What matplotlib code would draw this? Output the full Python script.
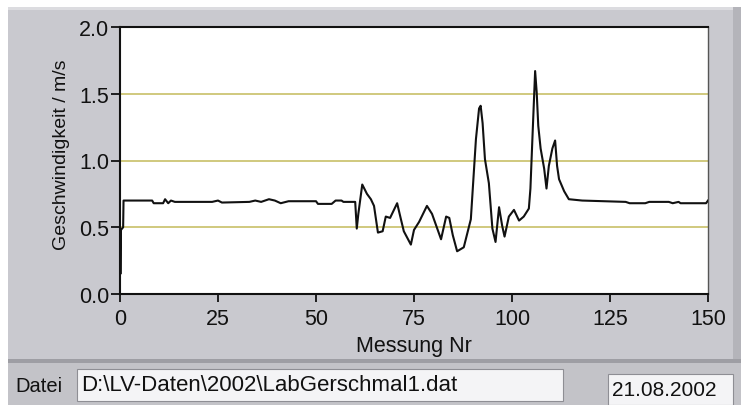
import matplotlib
matplotlib.use("Agg")
import matplotlib.pyplot as plt
from matplotlib.patches import Rectangle

plt.rcParams['font.family'] = ['Liberation Sans', 'DejaVu Sans']

# Messreihe (Messung Nr, Geschwindigkeit in m/s)
messung_nr = [0, 0.1, 0.25, 0.8, 0.9, 8.2, 8.6, 11.0, 11.5, 12.3, 13.0, 14.0,
              23.5, 25.0, 26.0, 33.0, 34.5, 36.0, 38.0, 39.5, 41.0, 43.0,
              50.0, 50.5, 54.0, 55.0, 56.5, 57.0, 60.0, 60.4, 60.8, 61.8,
              63.0, 64.0, 64.8, 65.8, 67.0, 67.8, 68.9, 70.7, 71.5, 72.4,
              74.2, 75.0, 76.3, 78.3, 79.6, 81.9, 83.2, 84.0, 84.9, 86.0,
              87.7, 89.5, 90.8, 91.6, 92.0, 92.5, 93.1, 94.1, 95.0, 95.8,
              96.7, 97.5, 98.1, 99.2, 100.5, 101.8, 103.0, 104.3, 104.7,
              105.2, 105.9, 106.3, 106.7, 107.3, 108.2, 108.8, 109.4, 110.3,
              111.0, 111.5, 112.0, 113.3, 114.5, 117.9, 129.0, 130.0, 134.0,
              135.0, 140.0, 141.0, 142.5, 143.0, 149.5, 150.0]
geschwindigkeit = [0.50, 0.15, 0.48, 0.50, 0.70, 0.70, 0.68, 0.68, 0.71, 0.68,
                   0.70, 0.69, 0.69, 0.70, 0.685, 0.69, 0.70, 0.69, 0.71, 0.70,
                   0.68, 0.695, 0.695, 0.675, 0.675, 0.70, 0.70, 0.69, 0.69,
                   0.49, 0.60, 0.82, 0.75, 0.71, 0.66, 0.46, 0.47, 0.58, 0.57,
                   0.68, 0.58, 0.47, 0.37, 0.48, 0.54, 0.66, 0.60, 0.41, 0.58,
                   0.57, 0.44, 0.32, 0.35, 0.56, 1.16, 1.39, 1.41, 1.28, 1.01,
                   0.83, 0.49, 0.39, 0.65, 0.51, 0.43, 0.58, 0.63, 0.55, 0.58,
                   0.64, 0.79, 1.16, 1.67, 1.51, 1.26, 1.09, 0.94, 0.79, 0.96,
                   1.09, 1.15, 0.96, 0.86, 0.77, 0.71, 0.70, 0.69, 0.68, 0.68,
                   0.69, 0.69, 0.68, 0.69, 0.68, 0.68, 0.70]

x_ticks = [0, 25, 50, 75, 100, 125, 150]
y_ticks = [0.0, 0.5, 1.0, 1.5, 2.0]
grid_y = [0.5, 1.0, 1.5]
dateiname = r"D:\LV-Daten\2002\LabGerschmal1.dat"
datum = "21.08.2002"

W, H = 741, 406
fig = plt.figure(figsize=(W / 100, H / 100), dpi=100)
fig.patch.set_facecolor('white')

def px_rect(x0, y0, x1, y1, **kw):
    # rectangle given in pixel coords (origin top-left), drawn behind the axes
    r = Rectangle((x0 / W, 1 - y1 / H), (x1 - x0) / W, (y1 - y0) / H,
                  transform=fig.transFigure, zorder=-10, **kw)
    fig.patches.append(r)

# Hintergrund-Panels
px_rect(8, 8, 741, 406, facecolor='#c9c9cf', edgecolor='none')
px_rect(8, 8, 741, 11, facecolor='#dcdce0', edgecolor='none')
px_rect(733, 8, 741, 362, facecolor='#b4b4ba', edgecolor='none')
px_rect(8, 360, 741, 364, facecolor='#9e9ea4', edgecolor='none')
px_rect(8, 364, 741, 406, facecolor='#c3c3c8', edgecolor='none')
px_rect(77, 370, 563, 402, facecolor='#f4f4f6', edgecolor='#8e8e94', linewidth=0.8)
px_rect(608, 375, 733, 406, facecolor='#f4f4f6', edgecolor='#8e8e94', linewidth=0.8)

ax = fig.add_axes([120 / W, 1 - 295 / H, (708 - 120) / W, (295 - 28) / H])
ax.set_facecolor('white')
for y in grid_y:
    ax.axhline(y, color='#c8c068', linewidth=1.2, zorder=1)
ax.plot(messung_nr, geschwindigkeit, color='#111111', linewidth=1.5, zorder=3)

ax.set_xlim(0, 150)
ax.set_ylim(0, 2.0)
ax.set_xticks(x_ticks)
ax.set_yticks(y_ticks)
ax.set_yticklabels([f"{v:.1f}" for v in y_ticks])
ax.tick_params(axis='both', direction='out', width=1.3, color='#111111',
               labelsize=15.5, labelcolor='#111111')
ax.tick_params(axis='x', length=6, pad=4)
ax.tick_params(axis='y', length=6.5, pad=1.5)
for side in ['left', 'bottom', 'top']:
    ax.spines[side].set_color('#111111')
    ax.spines[side].set_linewidth(1.5)
ax.spines['right'].set_color('#555555')
ax.spines['right'].set_linewidth(1.0)

ax.set_ylabel("Geschwindigkeit / m/s", fontsize=14, color='#111111')
ax.yaxis.set_label_coords(-0.085, 0.524)
ax.set_xlabel("Messung Nr", fontsize=15.5, color='#111111')
ax.xaxis.set_label_coords(0.5, -0.155)

fig.text(15 / W, 1 - 387 / H, "Datei", fontsize=14.5, color='#111111', va='center')
fig.text(81 / W, 1 - 386 / H, dateiname, fontsize=16, color='#111111', va='center')
fig.text(612 / W, 1 - 391 / H, datum, fontsize=15, color='#111111', va='center')

fig.savefig("out.png", dpi=100)
